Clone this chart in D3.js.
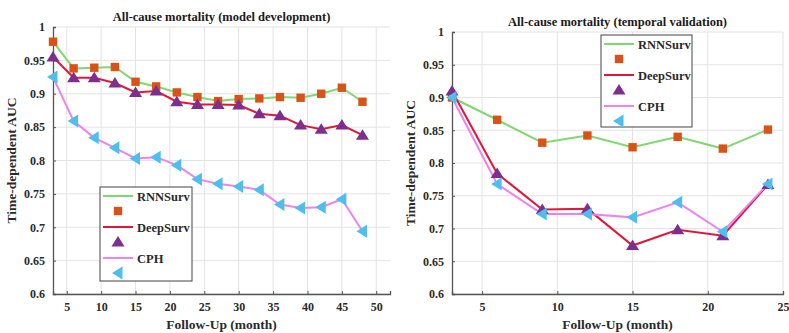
<!DOCTYPE html>
<html><head><meta charset="utf-8">
<script src="https://cdn.jsdelivr.net/npm/d3@7"></script>
<style>body{margin:0;background:#fff;} text{font-family:"Liberation Serif","Times New Roman",serif;font-weight:bold;}</style>
</head><body><svg id="c" width="789" height="333"></svg>
<script>
const monthsDev = [3,6,9,12,15,18,21,24,27,30,33,36,39,42,45,48];
const rnnDev = [0.978,0.938,0.939,0.940,0.918,0.911,0.902,0.895,0.889,0.892,0.893,0.895,0.894,0.900,0.909,0.888];
const deepDev = [0.955,0.924,0.924,0.916,0.902,0.904,0.888,0.884,0.884,0.883,0.870,0.867,0.853,0.847,0.853,0.838];
const cphDev = [0.925,0.859,0.834,0.819,0.803,0.805,0.793,0.772,0.765,0.761,0.756,0.734,0.729,0.730,0.742,0.694];
const monthsVal = [3,6,9,12,15,18,21,24];
const rnnVal = [0.900,0.866,0.831,0.842,0.824,0.840,0.822,0.851];
const deepVal = [0.910,0.784,0.729,0.730,0.674,0.698,0.689,0.767];
const cphVal = [0.900,0.768,0.722,0.722,0.717,0.740,0.695,0.768];
const yTicks = [0.6,0.65,0.7,0.75,0.8,0.85,0.9,0.95,1];
const xTicksDev = [5,10,15,20,25,30,35,40,45,50];
const xTicksVal = [5,10,15,20,25];
const seriesNames = ["RNNSurv","DeepSurv","CPH"];

const svg = d3.select("#c");
const lineCol = ["#80d870","#e0173c","#ee82ee"];
const markCol = ["#d95319","#7e2f8e","#4dbeee"];

function panel(o){
  const x = d3.scaleLinear().domain(o.xd).range([o.x0,o.x1]);
  const y = d3.scaleLinear().domain([0.6,1]).range([o.y1,o.y0]);
  const g = svg.append("g");
  g.selectAll(".gx").data(o.xt).enter().append("line")
    .attr("x1",d=>x(d)).attr("x2",d=>x(d)).attr("y1",o.y0).attr("y2",o.y1)
    .attr("stroke","#e3e3e3").attr("stroke-width",1);
  g.selectAll(".gy").data(yTicks).enter().append("line")
    .attr("x1",o.x0).attr("x2",o.x1).attr("y1",d=>y(d)).attr("y2",d=>y(d))
    .attr("stroke","#e3e3e3").attr("stroke-width",1);
  const ax = g.append("g").attr("transform",`translate(0,${o.y1})`)
    .call(d3.axisBottom(x).tickValues(o.xt).tickSize(-3).tickPadding(8).tickFormat(d3.format("d")));
  const ay = g.append("g").attr("transform",`translate(${o.x0},0)`)
    .call(d3.axisLeft(y).tickValues(yTicks).tickSize(-3).tickPadding(8).tickFormat(d=>d3.format("")(+d.toFixed(2))));
  [ax,ay].forEach(a=>{
    a.select(".domain").attr("stroke","#555").attr("stroke-width",1.3);
    a.selectAll(".tick line").attr("stroke","#555");
    a.selectAll("text").attr("font-size",12).attr("fill","#2a2a2a")
      .style("font-family","'Liberation Serif',serif").style("font-weight","bold");
  });
  g.append("text").attr("x",(o.x0+o.x1)/2).attr("y",o.ty).attr("text-anchor","middle")
    .attr("font-size",12.5).attr("fill","#1a1a1a").text(o.title);
  g.append("text").attr("x",(o.x0+o.x1)/2).attr("y",o.y1+35).attr("text-anchor","middle")
    .attr("font-size",13.5).attr("fill","#2a2a2a").text("Follow-Up (month)");
  g.append("text").attr("transform",`translate(${o.lx},${(o.y0+o.y1)/2}) rotate(-90)`)
    .attr("text-anchor","middle").attr("font-size",13.5).attr("fill","#2a2a2a").text("Time-dependent AUC");
  const sets = [o.s[0],o.s[1],o.s[2]];
  const ln = d3.line().x(d=>x(d[0])).y(d=>y(d[1]));
  sets.forEach((vals,i)=>{
    const pts = o.m.map((m,k)=>[m,vals[k]]);
    g.append("path").datum(pts).attr("d",ln).attr("fill","none")
      .attr("stroke",lineCol[i]).attr("stroke-width",2);
  });
  [0,1,2].forEach(i=>{
    const pts = o.m.map((m,k)=>[m,sets[i][k]]);
    g.selectAll(".m"+i).data(pts).enter().append("path")
      .attr("transform",d=>`translate(${x(d[0])},${y(d[1])})`)
      .attr("d",marker(i)).attr("fill",markCol[i]);
  });
  const L = o.leg;
  g.append("rect").attr("x",L.x).attr("y",L.y).attr("width",L.w).attr("height",L.h)
    .attr("fill","#fff").attr("stroke","#444").attr("stroke-width",1);
  seriesNames.forEach((n,i)=>{
    const ry = L.y + 9 + i*31;
    g.append("line").attr("x1",L.x+3).attr("x2",L.x+33).attr("y1",ry).attr("y2",ry)
      .attr("stroke",lineCol[i]).attr("stroke-width",2);
    g.append("text").attr("x",L.x+37).attr("y",ry+4.5).attr("font-size",12.5).attr("fill","#2a2a2a").text(n);
    g.append("path").attr("transform",`translate(${L.x+18},${ry+15})`).attr("d",marker(i)).attr("fill",markCol[i]);
  });
}
function marker(i){
  if(i===0) return "M-4.2,-4.2H4.2V4.2H-4.2Z";
  if(i===1) return "M0,-6L6.5,4.5H-6.5Z";
  return "M-6,0L4.5,-6.5V6.5Z";
}
panel({xd:[3,52],x0:53,x1:390,y0:27,y1:294,xt:xTicksDev,m:monthsDev,s:[rnnDev,deepDev,cphDev],
  title:"All-cause mortality (model development)",ty:21,lx:16,leg:{x:100,y:187,w:92,h:94}});
panel({xd:[3,25],x0:452,x1:783,y0:32,y1:294,xt:xTicksVal,m:monthsVal,s:[rnnVal,deepVal,cphVal],
  title:"All-cause mortality (temporal validation)",ty:26,lx:415,leg:{x:601,y:35,w:91,h:92}});
</script></body></html>
